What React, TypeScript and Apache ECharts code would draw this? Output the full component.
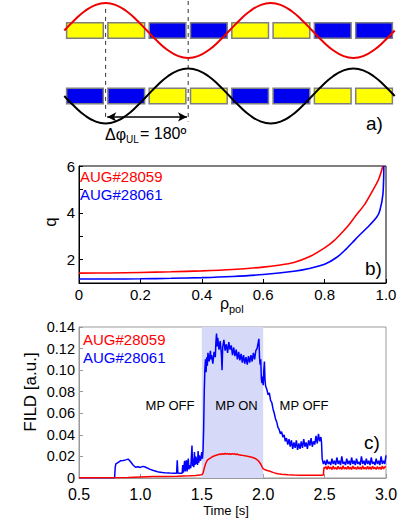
import React, { useEffect, useRef } from "react";
import * as echarts from "echarts";

// ---------- Panel a: coil layout and perturbation phases ----------
const COIL_TOP = ["Y", "Y", "B", "B", "Y", "Y", "B", "B"];
const COIL_BOTTOM = ["B", "B", "Y", "Y", "B", "B", "Y", "Y"];
const WAVE_PHI = [0, 0.25, 0.5, 0.75, 1, 1.25, 1.5, 1.75, 2, 2.25, 2.5, 2.75, 3, 3.25, 3.5, 3.75, 4, 4.25, 4.5, 4.75, 5, 5.25, 5.5, 5.75, 6, 6.25, 6.5, 6.75, 7, 7.25, 7.5, 7.75, 8];
const WAVE_UPPER = [1.0, 1.161, 1.297, 1.388, 1.42, 1.388, 1.297, 1.161, 1.0, 0.839, 0.703, 0.612, 0.58, 0.612, 0.703, 0.839, 1.0, 1.161, 1.297, 1.388, 1.42, 1.388, 1.297, 1.161, 1.0, 0.839, 0.703, 0.612, 0.58, 0.612, 0.703, 0.839, 1.0];
const WAVE_LOWER = [0, -0.161, -0.297, -0.388, -0.42, -0.388, -0.297, -0.161, 0, 0.161, 0.297, 0.388, 0.42, 0.388, 0.297, 0.161, 0, -0.161, -0.297, -0.388, -0.42, -0.388, -0.297, -0.161, 0, 0.161, 0.297, 0.388, 0.42, 0.388, 0.297, 0.161, 0];

// ---------- Panel b: safety factor profiles ----------
const RHO_28059 = [0, 0.1, 0.2, 0.3, 0.4, 0.5, 0.6, 0.65, 0.7, 0.75, 0.8, 0.83, 0.86, 0.88, 0.9, 0.93, 0.95, 0.975, 0.99];
const Q_28059 = [1.42, 1.43, 1.45, 1.48, 1.52, 1.58, 1.68, 1.76, 1.88, 2.12, 2.5, 2.8, 3.2, 3.5, 3.85, 4.35, 4.8, 5.4, 6.0];
const RHO_28061 = [0, 0.1, 0.2, 0.3, 0.4, 0.5, 0.6, 0.7, 0.75, 0.8, 0.84, 0.87, 0.89, 0.91, 0.94, 0.97, 0.98, 0.99, 0.993];
const Q_28061 = [1.17, 1.17, 1.18, 1.2, 1.23, 1.28, 1.36, 1.5, 1.62, 1.8, 2.1, 2.45, 2.72, 3.0, 3.38, 3.82, 4.1, 4.8, 6.0];

// ---------- Panel c: FILD signals ----------
const T_28061 = [0.5, 0.6, 0.7, 0.79, 0.795, 0.8, 0.82, 0.84, 0.86, 0.88, 0.9, 0.91, 0.92, 0.94, 0.96, 0.98, 1.0, 1.02, 1.04, 1.06, 1.08, 1.1, 1.12, 1.14, 1.16, 1.18, 1.2, 1.24, 1.28, 1.295, 1.3, 1.305, 1.34, 1.345, 1.35, 1.36, 1.365, 1.375, 1.38, 1.39, 1.395, 1.4, 1.41, 1.42, 1.425, 1.43, 1.435, 1.44, 1.445, 1.45, 1.455, 1.46, 1.465, 1.47, 1.475, 1.48, 1.49, 1.5, 1.505, 1.51, 1.515, 1.52, 1.525, 1.53, 1.535, 1.54, 1.545, 1.55, 1.56, 1.57, 1.575, 1.58, 1.59, 1.6, 1.61, 1.615, 1.62, 1.625, 1.63, 1.64, 1.65, 1.66, 1.665, 1.67, 1.68, 1.69, 1.7, 1.71, 1.72, 1.73, 1.74, 1.75, 1.76, 1.77, 1.78, 1.79, 1.8, 1.81, 1.82, 1.83, 1.84, 1.85, 1.86, 1.87, 1.88, 1.89, 1.9, 1.91, 1.92, 1.93, 1.94, 1.95, 1.96, 1.965, 1.97, 1.975, 1.98, 1.985, 1.99, 1.995, 2.0, 2.005, 2.01, 2.015, 2.02, 2.03, 2.04, 2.05, 2.06, 2.07, 2.08, 2.09, 2.1, 2.11, 2.12, 2.13, 2.14, 2.15, 2.16, 2.17, 2.18, 2.19, 2.2, 2.21, 2.22, 2.23, 2.24, 2.25, 2.26, 2.27, 2.28, 2.29, 2.3, 2.31, 2.32, 2.33, 2.34, 2.35, 2.36, 2.37, 2.38, 2.39, 2.4, 2.41, 2.42, 2.43, 2.44, 2.45, 2.46, 2.47, 2.475, 2.48, 2.49, 2.5, 2.51, 2.52, 2.53, 2.54, 2.55, 2.56, 2.57, 2.58, 2.59, 2.6, 2.61, 2.62, 2.63, 2.64, 2.65, 2.66, 2.67, 2.68, 2.69, 2.7, 2.71, 2.72, 2.73, 2.74, 2.75, 2.76, 2.77, 2.78, 2.79, 2.8, 2.81, 2.82, 2.83, 2.84, 2.85, 2.86, 2.87, 2.88, 2.89, 2.9, 2.91, 2.92, 2.93, 2.94, 2.95, 2.96, 2.97, 2.98, 2.99, 3.0];
const FILD_28061 = [0.0003, 0.0003, 0.0003, 0.0003, 0.01, 0.013, 0.0145, 0.016, 0.0162, 0.0168, 0.0175, 0.0165, 0.015, 0.012, 0.01, 0.0105, 0.0098, 0.0108, 0.0102, 0.009, 0.008, 0.0072, 0.0065, 0.0058, 0.0054, 0.005, 0.0048, 0.0046, 0.0045, 0.0045, 0.0165, 0.0045, 0.0045, 0.012, 0.005, 0.016, 0.006, 0.0165, 0.006, 0.018, 0.008, 0.012, 0.009, 0.03, 0.011, 0.018, 0.01, 0.024, 0.012, 0.02, 0.013, 0.019, 0.012, 0.025, 0.014, 0.021, 0.016, 0.024, 0.018, 0.025, 0.045, 0.08, 0.1, 0.11, 0.098, 0.112, 0.104, 0.116, 0.108, 0.118, 0.11, 0.114, 0.106, 0.117, 0.112, 0.126, 0.134, 0.122, 0.13, 0.119, 0.127, 0.114, 0.1, 0.121, 0.128, 0.118, 0.124, 0.116, 0.126, 0.119, 0.123, 0.114, 0.121, 0.113, 0.119, 0.11, 0.117, 0.109, 0.115, 0.107, 0.114, 0.106, 0.112, 0.105, 0.113, 0.107, 0.114, 0.108, 0.116, 0.11, 0.118, 0.12, 0.126, 0.129, 0.112, 0.105, 0.11, 0.092, 0.088, 0.094, 0.086, 0.1, 0.108, 0.09, 0.085, 0.082, 0.077, 0.079, 0.072, 0.07, 0.064, 0.06, 0.055, 0.052, 0.047, 0.045, 0.041, 0.043, 0.038, 0.04, 0.034, 0.037, 0.031, 0.036, 0.029, 0.035, 0.027, 0.033, 0.028, 0.035, 0.026, 0.032, 0.027, 0.034, 0.028, 0.036, 0.029, 0.033, 0.027, 0.035, 0.03, 0.037, 0.029, 0.034, 0.031, 0.039, 0.032, 0.041, 0.034, 0.038, 0.033, 0.018, 0.013, 0.016, 0.012, 0.017, 0.013, 0.015, 0.012, 0.018, 0.013, 0.016, 0.012, 0.019, 0.013, 0.016, 0.012, 0.02, 0.013, 0.015, 0.012, 0.018, 0.013, 0.016, 0.012, 0.019, 0.013, 0.016, 0.012, 0.018, 0.013, 0.015, 0.012, 0.02, 0.013, 0.016, 0.012, 0.018, 0.013, 0.016, 0.012, 0.019, 0.013, 0.015, 0.012, 0.018, 0.013, 0.016, 0.012, 0.02, 0.013, 0.016, 0.013, 0.021];

const T_28059 = [0.5, 0.7, 0.9, 1.0, 1.05, 1.1, 1.2, 1.3, 1.4, 1.45, 1.5, 1.51, 1.52, 1.53, 1.54, 1.55, 1.57, 1.59, 1.61, 1.63, 1.65, 1.66, 1.67, 1.68, 1.69, 1.7, 1.71, 1.72, 1.73, 1.74, 1.75, 1.76, 1.77, 1.78, 1.79, 1.8, 1.82, 1.84, 1.86, 1.88, 1.9, 1.92, 1.94, 1.96, 1.98, 1.99, 2.0, 2.01, 2.02, 2.04, 2.06, 2.08, 2.1, 2.12, 2.15, 2.2, 2.25, 2.3, 2.35, 2.4, 2.45, 2.48, 2.49, 2.495, 2.5, 2.51, 2.52, 2.53, 2.54, 2.55, 2.56, 2.57, 2.58, 2.59, 2.6, 2.61, 2.62, 2.63, 2.64, 2.65, 2.66, 2.67, 2.68, 2.69, 2.7, 2.71, 2.72, 2.73, 2.74, 2.75, 2.76, 2.77, 2.78, 2.79, 2.8, 2.81, 2.82, 2.83, 2.84, 2.85, 2.86, 2.87, 2.88, 2.89, 2.9, 2.91, 2.92, 2.93, 2.94, 2.95, 2.96, 2.97, 2.98, 2.99, 3.0];
const FILD_28059 = [0.0003, 0.0003, 0.0004, 0.001, 0.0012, 0.0013, 0.0014, 0.0016, 0.002, 0.0024, 0.003, 0.0045, 0.009, 0.013, 0.0155, 0.017, 0.0185, 0.02, 0.0208, 0.0215, 0.0222, 0.0218, 0.0226, 0.022, 0.0228, 0.0222, 0.0227, 0.022, 0.0225, 0.0219, 0.0226, 0.0221, 0.0224, 0.0218, 0.0222, 0.0215, 0.0212, 0.0208, 0.0205, 0.02, 0.0195, 0.0188, 0.0178, 0.016, 0.013, 0.0105, 0.0085, 0.008, 0.0074, 0.0068, 0.006, 0.0052, 0.0045, 0.004, 0.0035, 0.003, 0.0027, 0.0026, 0.0026, 0.0025, 0.0026, 0.0026, 0.0027, 0.01, 0.009, 0.0105, 0.008, 0.011, 0.0085, 0.01, 0.0078, 0.0112, 0.0082, 0.0098, 0.008, 0.0108, 0.0083, 0.0101, 0.0079, 0.0113, 0.0084, 0.0097, 0.0081, 0.0109, 0.0082, 0.0102, 0.0078, 0.0111, 0.0085, 0.0099, 0.008, 0.0107, 0.0083, 0.01, 0.0079, 0.0114, 0.0084, 0.0098, 0.0081, 0.0108, 0.0082, 0.0103, 0.0079, 0.011, 0.0085, 0.0099, 0.008, 0.0106, 0.0083, 0.0101, 0.0079, 0.0112, 0.0084, 0.0102, 0.0105];

const FONT = "'Liberation Sans', Arial, Helvetica, sans-serif";
const RED = "#ff0000";
const BLUE = "#0000ff";

function zip(xs: number[], ys: number[]) {
  return xs.map((x, i) => [x, ys[i]]);
}

export default function App() {
  const ref = useRef<HTMLDivElement>(null);
  useEffect(() => {
    if (!ref.current) return;
    const chart = echarts.init(ref.current, undefined, { renderer: "svg" });
    const coilData: number[][] = [];
    COIL_TOP.forEach((c, i) => coilData.push([i, 1, c === "Y" ? 1 : 0]));
    COIL_BOTTOM.forEach((c, i) => coilData.push([i, 0, c === "Y" ? 1 : 0]));

    const txt = (text: string, x: number, y: number, size: number, color = "#000", align = "left", rot = 0) => ({
      type: "text",
      x,
      y,
      z: 100,
      zlevel: 0,
      rotation: rot,
      silent: true,
      style: { text, fill: color, font: `${size}px ${FONT}`, align, verticalAlign: "middle" },
    });

    const option: any = {
      animation: false,
      backgroundColor: "#ffffff",
      textStyle: { fontFamily: FONT },
      grid: [
        { left: 64.3, width: 330.4, top: 1, height: 147.4 },
        { left: 79, width: 307, top: 166, height: 117, show: true, borderColor: "#000", borderWidth: 1 },
        { left: 79, width: 307, top: 327, height: 151, show: true, borderColor: "#999", borderWidth: 1 },
      ],
      xAxis: [
        { gridIndex: 0, type: "value", min: 0, max: 8, show: false },
        {
          gridIndex: 1, type: "value", min: 0, max: 1, interval: 0.2,
          axisLine: { lineStyle: { color: "#000" } },
          axisTick: { inside: true, length: 4, lineStyle: { color: "#000" } },
          splitLine: { show: false },
          axisLabel: { color: "#000", fontSize: 15, margin: 4, formatter: (v: number) => (v === 0 ? "0" : v.toFixed(1)) },
        },
        {
          gridIndex: 2, type: "value", min: 0.5, max: 3, interval: 0.5,
          axisLine: { lineStyle: { color: "#999" } },
          axisTick: { inside: true, length: 4, lineStyle: { color: "#999" } },
          splitLine: { show: false },
          axisLabel: { color: "#000", fontSize: 16, margin: 8, formatter: (v: number) => v.toFixed(1) },
        },
      ],
      yAxis: [
        { gridIndex: 0, type: "value", min: -0.8, max: 1.45, show: false },
        {
          gridIndex: 1, type: "value", min: 1, max: 6, interval: 1,
          axisLine: { show: true, lineStyle: { color: "#000" } },
          axisTick: { show: true, inside: true, length: 4, lineStyle: { color: "#000" } },
          splitLine: { show: false },
          axisLabel: { color: "#000", fontSize: 15, margin: 4, formatter: (v: number) => (v % 2 === 0 ? String(v) : "") },
        },
        {
          gridIndex: 2, type: "value", min: 0, max: 0.14, interval: 0.02,
          axisLine: { show: true, lineStyle: { color: "#999" } },
          axisTick: { show: true, inside: true, length: 4, lineStyle: { color: "#999" } },
          splitLine: { show: false },
          axisLabel: { color: "#000", fontSize: 14.5, margin: 4, formatter: (v: number) => (v === 0 ? "0" : v.toFixed(2)) },
        },
      ],
      series: [
        {
          type: "custom",
          xAxisIndex: 0, yAxisIndex: 0,
          data: coilData,
          silent: true,
          renderItem: (params: any, api: any) => {
            const i = api.value(0);
            const row = api.value(1);
            const yellow = api.value(2) === 1;
            const p0 = api.coord([i + 0.056, row + 0.117]);
            const p1 = api.coord([i + 0.944, row - 0.117]);
            return {
              type: "rect",
              shape: { x: p0[0], y: p0[1], width: p1[0] - p0[0], height: p1[1] - p0[1] },
              style: { fill: yellow ? "#ffff00" : "#0000f0", stroke: "#7f7f7f", lineWidth: 1.5 },
            };
          },
        },
        {
          type: "line", xAxisIndex: 0, yAxisIndex: 0, silent: true,
          data: [[1, 1.33], [1, -0.37]], symbol: "none",
          lineStyle: { color: "#333", width: 1, type: [4, 4] },
        },
        {
          type: "line", xAxisIndex: 0, yAxisIndex: 0, silent: true,
          data: [[3, 1.45], [3, -0.39]], symbol: "none",
          lineStyle: { color: "#333", width: 1, type: [4, 4] },
          markLine: {
            silent: true, symbol: ["arrow", "arrow"], symbolSize: [7, 9],
            label: { show: false },
            lineStyle: { color: "#000", type: "solid", width: 1.5 },
            data: [[{ coord: [1.04, -0.32] }, { coord: [2.97, -0.32] }]],
          },
        },
        {
          type: "line", xAxisIndex: 0, yAxisIndex: 0, silent: true, smooth: true,
          data: zip(WAVE_PHI, WAVE_UPPER), symbol: "none",
          lineStyle: { color: "#ee0000", width: 2 },
        },
        {
          type: "line", xAxisIndex: 0, yAxisIndex: 0, silent: true, smooth: true,
          data: zip(WAVE_PHI, WAVE_LOWER), symbol: "none",
          lineStyle: { color: "#000", width: 2 },
        },
        {
          type: "line", xAxisIndex: 1, yAxisIndex: 1, silent: true, smooth: 0.3,
          data: zip(RHO_28059, Q_28059), symbol: "none",
          lineStyle: { color: RED, width: 1.6 },
        },
        {
          type: "line", xAxisIndex: 1, yAxisIndex: 1, silent: true, smooth: 0.3,
          data: zip(RHO_28061, Q_28061), symbol: "none",
          lineStyle: { color: BLUE, width: 1.6 },
        },
        {
          type: "line", xAxisIndex: 2, yAxisIndex: 2, silent: true,
          data: zip(T_28061, FILD_28061), symbol: "none",
          lineStyle: { color: BLUE, width: 1.5 },
          markArea: {
            silent: true,
            itemStyle: { color: "#d6d9f7" },
            data: [[{ xAxis: 1.5 }, { xAxis: 2.0 }]],
          },
        },
        {
          type: "line", xAxisIndex: 2, yAxisIndex: 2, silent: true,
          data: zip(T_28059, FILD_28059), symbol: "none",
          lineStyle: { color: RED, width: 1.5 },
        },
      ],
      graphic: {
        elements: [
          txt("Δφ", 105, 134, 16),
          txt("UL", 126, 139, 10),
          txt("= 180º", 140, 133, 16),
          txt("a)", 366, 123, 19),
          txt("AUG#28059", 80, 176.5, 15, RED),
          txt("AUG#28061", 80, 194, 15, BLUE),
          txt("q", 50, 222, 17, "#000", "center", Math.PI / 2),
          txt("ρ", 220, 303, 16),
          txt("pol", 229, 309, 11),
          txt("b)", 365, 268, 19),
          txt("AUG#28059", 83, 339, 15, RED),
          txt("AUG#28061", 83, 357.5, 15, BLUE),
          txt("FILD [a.u.]", 30, 392, 17, "#000", "center", Math.PI / 2),
          txt("Time [s]", 226, 510, 13, "#000", "center"),
          txt("MP OFF", 170, 405, 13, "#000", "center"),
          txt("MP ON", 236.5, 405, 13, "#000", "center"),
          txt("MP OFF", 304, 405, 13, "#000", "center"),
          txt("c)", 364, 442, 19),
        ],
      },
    };
    chart.setOption(option);
    return () => chart.dispose();
  }, []);
  return (
    <div
      ref={ref}
      style={{ position: "absolute", left: 0, top: 0, width: 404, height: 520, background: "#fff" }}
    />
  );
}
